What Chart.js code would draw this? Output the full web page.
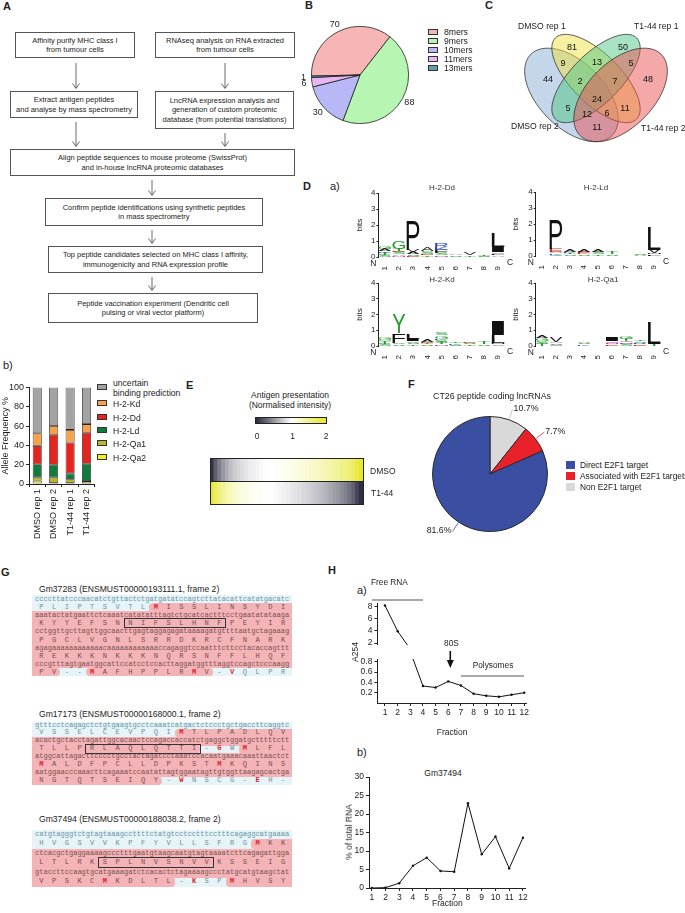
<!DOCTYPE html>
<html>
<head>
<meta charset="utf-8">
<title>Figure</title>
<script src="https://cdn.jsdelivr.net/npm/chart.js@4.4.1/dist/chart.umd.min.js"></script>
<style>
body{margin:0;width:685px;height:913px;position:relative;overflow:hidden;background:#fff;font-family:"Liberation Sans",Arial,sans-serif;color:#222}
canvas{position:absolute}
.t{position:absolute;white-space:nowrap;line-height:1}
.c{transform:translateX(-50%)}
.pl{position:absolute;font-weight:bold;font-size:11px;line-height:1}
.fb{position:absolute;box-sizing:border-box;border:1px solid #555;font-size:7.5px;line-height:9.4px;text-align:center;display:flex;align-items:center;justify-content:center;background:#fff}
.lg{position:absolute;line-height:1;white-space:nowrap}
.lg i{position:absolute;left:-16px;top:1px;width:10px;height:6px;border:0.8px solid #333;box-sizing:border-box}
.mono{position:absolute;font-family:"Liberation Mono","DejaVu Sans Mono",monospace;font-size:7.07px;white-space:pre}
</style>
</head>
<body>

<!-- panel letters -->
<div class="pl" style="left:3px;top:1px">A</div>
<div class="pl" style="left:305px;top:0px">B</div>
<div class="pl" style="left:485px;top:0px">C</div>
<div class="pl" style="left:303px;top:181px">D</div>
<div class="t" style="left:330px;top:181px;font-size:11px">a)</div>
<div class="t" style="left:3px;top:360px;font-size:11px">b)</div>
<div class="pl" style="left:186px;top:380px">E</div>
<div class="pl" style="left:408px;top:379px">F</div>
<div class="pl" style="left:1px;top:567px">G</div>
<div class="pl" style="left:328px;top:565px">H</div>
<div class="t" style="left:357px;top:585px;font-size:11px">a)</div>
<div class="t" style="left:357px;top:747px;font-size:11px">b)</div>

<!-- A: workflow -->
<div class="fb" style="left:15px;top:32px;width:120px;height:26px">Affinity purify MHC class I<br>from tumour cells</div>
<div class="fb" style="left:155px;top:32px;width:140px;height:26px">RNAseq analysis on RNA extracted<br>from tumour cells</div>
<div class="fb" style="left:10px;top:91px;width:128px;height:27px">Extract antigen peptides<br>and analyse by mass spectrometry</div>
<div class="fb" style="left:155px;top:91px;width:139px;height:38px">LncRNA expression analysis and<br>generation of custom proteomic<br>database (from potential translations)</div>
<div class="fb" style="left:10px;top:149px;width:285px;height:27px">Align peptide sequences to mouse proteome (SwissProt)<br>and in-house lncRNA proteomic databases</div>
<div class="fb" style="left:45px;top:198px;width:218px;height:28px">Confirm peptide identifications using synthetic peptides<br>in mass spectrometry</div>
<div class="fb" style="left:48px;top:246px;width:215px;height:27px">Top peptide candidates selected on MHC class I affinity,<br>immunogenicity and RNA expression profile</div>
<div class="fb" style="left:48px;top:293px;width:210px;height:30px">Peptide vaccination experiment (Dendritic cell<br>pulsing or viral vector platform)</div>
<svg style="position:absolute;left:0;top:0" width="300" height="330">
  <g stroke="#444" stroke-width="0.8" fill="none">
    <path d="M76 63V88M72.5 83.5L76 88.5L79.5 83.5"/>
    <path d="M225 63V88M221.5 83.5L225 88.5L228.5 83.5"/>
    <path d="M76 122V146M72.5 141.5L76 146.5L79.5 141.5"/>
    <path d="M225 133V146M221.5 141.5L225 146.5L228.5 141.5"/>
    <path d="M152 180V195M148.5 190.5L152 195.5L155.5 190.5"/>
    <path d="M152 230V243M148.5 238.5L152 243.5L155.5 238.5"/>
    <path d="M152 277V290M148.5 285.5L152 290.5L155.5 285.5"/>
  </g>
</svg>

<!-- B -->
<canvas id="pieB" width="138" height="138" style="left:291px;top:6px"></canvas>
<div id="legB"></div>

<!-- C -->
<canvas id="venn" width="164" height="164" style="left:514px;top:8px"></canvas>
<div class="t" style="left:518px;top:21.5px;font-size:8.6px">DMSO rep 1</div>
<div class="t" style="left:634px;top:21.5px;font-size:8.6px">T1-44 rep 1</div>
<div class="t" style="left:511px;top:121.5px;font-size:8.6px">DMSO rep 2</div>
<div class="t" style="left:641px;top:123.5px;font-size:8.6px">T1-44 rep 2</div>

<!-- D -->
<canvas id="logoDd" width="163" height="84" style="left:355px;top:186px"></canvas>
<canvas id="logoLd" width="163" height="84" style="left:511px;top:185px"></canvas>
<canvas id="logoKd" width="163" height="83" style="left:355px;top:276px"></canvas>
<canvas id="logoQa1" width="163" height="83" style="left:511px;top:276px"></canvas>
<div class="t c" style="left:442px;top:184px;font-size:8px;color:#333">H-2-Dd</div>
<div class="t c" style="left:596px;top:184px;font-size:8px;color:#333">H-2-Ld</div>
<div class="t c" style="left:442px;top:276px;font-size:8px;color:#333">H-2-Kd</div>
<div class="t c" style="left:603px;top:276px;font-size:8px;color:#333">H-2-Qa1</div>

<!-- b) -->
<canvas id="alleles" width="100" height="185" style="left:0px;top:380px"></canvas>
<div id="legAllele"></div>

<!-- E -->
<div class="t c" style="left:290px;top:390px;font-size:8.5px;text-align:center;line-height:10px">Antigen presentation<br>(Normalised intensity)</div>
<div style="position:absolute;left:255px;top:417px;width:72px;height:7px;box-sizing:border-box;border:1px solid #222;background:linear-gradient(to right,rgb(40,40,62),#fff 50%,rgb(230,230,40))"></div>
<div class="t c" style="left:257px;top:432px;font-size:8.5px">0</div>
<div class="t c" style="left:292.5px;top:432px;font-size:8.5px">1</div>
<div class="t c" style="left:326px;top:432px;font-size:8.5px">2</div>
<canvas id="heat" width="153" height="46" style="left:210px;top:458px"></canvas>
<div style="position:absolute;left:209.5px;top:457.5px;width:154px;height:47px;box-sizing:border-box;border:1.2px solid #222"></div>
<div style="position:absolute;left:210px;top:480.5px;width:153px;height:1px;background:#222"></div>
<div class="t" style="left:370px;top:467px;font-size:8.5px">DMSO</div>
<div class="t" style="left:371px;top:489px;font-size:8.5px">T1-44</div>

<!-- F -->
<div class="t c" style="left:492px;top:391.5px;font-size:8.8px">CT26 peptide coding lncRNAs</div>
<canvas id="pieF" width="176" height="176" style="left:402px;top:386px"></canvas>
<div id="legF"></div>

<!-- G -->
<div id="seqs"></div>

<!-- H a) -->
<canvas id="a254Top" width="191" height="56" style="left:340px;top:596px"></canvas>
<canvas id="a254Bottom" width="191" height="90" style="left:340px;top:652px"></canvas>
<div class="t" style="left:355px;top:652px;font-size:8.5px;transform:translate(-50%,-50%) rotate(-90deg)">A254</div>
<div class="t" style="left:371px;top:578px;font-size:8.3px">Free RNA</div>
<div class="t c" style="left:451.5px;top:639px;font-size:8.3px">80S</div>
<div class="t c" style="left:493px;top:661px;font-size:8.3px">Polysomes</div>
<svg style="position:absolute;left:360px;top:590px" width="180" height="100">
  <g stroke="#555" stroke-width="1" fill="none">
    <path d="M12 10H63"/>
    <path d="M101 86H164"/>
  </g>
  <path d="M90.3 61V71" stroke="#111" stroke-width="1.6"/>
  <path d="M86.8 70L90.3 78L93.8 70Z" fill="#111"/>
</svg>

<!-- H b) -->
<div class="t c" style="left:443px;top:769px;font-size:8.5px">Gm37494</div>
<canvas id="gmChart" width="200" height="145" style="left:330px;top:768px"></canvas>
<div class="t" style="left:349px;top:832px;font-size:8.5px;transform:translate(-50%,-50%) rotate(-90deg)">% of total RNA</div>

<script>
// ---------- data ----------
// B: peptide length distribution
const lengthNames = ['8mers', '9mers', '10mers', '11mers', '13mers'];
const lengthCounts = [70, 88, 30, 6, 1];

// C: overlap between replicates
const vennCounts = [81, 50, 44, 48, 9, 13, 5, 2, 7, 24, 5, 11, 12, 6, 11];

// D: motif logos, stacks of [residue, bits] per position 1..9
const logoPositions = [1, 2, 3, 4, 5, 6, 7, 8, 9];
const bitTicks = [0, 1, 2, 3, 4];
const logoDd = [
  [['S', 0.15], ['T', 0.12], ['K', 0.1], ['A', 0.12], ['G', 0.13]],
  [['N', 0.08], ['A', 0.1], ['S', 0.12], ['E', 0.08], ['T', 0.12], ['G', 0.5]],
  [['E', 0.08], ['S', 0.1], ['A', 0.12], ['V', 0.15], ['P', 1.85]],
  [['T', 0.1], ['E', 0.1], ['S', 0.15], ['A', 0.25]],
  [['N', 0.1], ['S', 0.15], ['F', 0.2], ['K', 0.15], ['R', 0.25]],
  [['S', 0.1], ['A', 0.1]],
  [['T', 0.1], ['V', 0.12]],
  [['S', 0.08], ['T', 0.1]],
  [['A', 0.1], ['F', 0.1], ['V', 0.1], ['I', 0.3], ['L', 0.85]]
];
const logoLd = [
  [],
  [['G', 0.08], ['K', 0.08], ['A', 0.1], ['E', 0.2], ['P', 1.8]],
  [['S', 0.1], ['T', 0.1], ['K', 0.08], ['A', 0.15]],
  [['S', 0.1], ['E', 0.12], ['A', 0.15]],
  [['T', 0.1], ['S', 0.15], ['A', 0.15]],
  [['S', 0.1], ['T', 0.12]],
  [],
  [['A', 0.08], ['S', 0.1]],
  [['F', 0.1], ['M', 0.1], ['V', 0.2], ['L', 1.4]]
];
const logoKd = [
  [['S', 0.15], ['T', 0.15], ['A', 0.1], ['G', 0.15]],
  [['S', 0.1], ['V', 0.1], ['F', 0.6], ['Y', 1.2]],
  [['T', 0.1], ['S', 0.1], ['V', 0.1], ['I', 0.15], ['L', 0.35]],
  [['S', 0.1], ['T', 0.1], ['E', 0.08], ['A', 0.12]],
  [['N', 0.1], ['T', 0.12], ['S', 0.15], ['K', 0.1], ['G', 0.2], ['S', 0.15]],
  [['S', 0.08], ['K', 0.1], ['T', 0.1]],
  [['T', 0.1], ['S', 0.1], ['E', 0.1]],
  [['S', 0.1], ['T', 0.12]],
  [['V', 0.1], ['M', 0.1], ['L', 0.5], ['I', 0.9]]
];
const logoQa1 = [
  [['T', 0.15], ['S', 0.15], ['G', 0.2], ['A', 0.15]],
  [['Q', 0.08], ['S', 0.1], ['A', 0.1], ['V', 0.3]],
  [],
  [['K', 0.1], ['S', 0.1], ['A', 0.1]],
  [],
  [['E', 0.1], ['N', 0.1], ['Q', 0.1], ['I', 0.25]],
  [['S', 0.12], ['N', 0.1], ['Q', 0.1], ['T', 0.15], ['G', 0.2]],
  [['E', 0.1], ['R', 0.1], ['S', 0.1], ['T', 0.1]],
  [['T', 0.12], ['L', 1.4]]
];

// b): allele frequency (%) per sample, bottom to top of the stack
const sampleNames = ['DMSO rep 1', 'DMSO rep 2', 'T1-44 rep 1', 'T1-44 rep 2'];
const qa2 = [3.5, 1, 1, 0.5];
const qa1 = [3.5, 6, 4, 2.5];
const ld = [13.5, 13, 6, 18];
const dd = [19, 31, 32, 32];
const kd = [13, 9, 13, 9];
const uncertain = [47.5, 40, 44, 38];
const freqTicks = [0, 20, 40, 60, 80, 100];

// E: normalised antigen presentation per peptide
const heatRows = ['DMSO', 'T1-44'];
const dmsoIntensity = [0.05, 0.25, 0.4, 0.52, 0.62, 0.7, 0.76, 0.81, 0.85, 0.88, 0.91, 0.93, 0.95, 0.97, 0.99, 1.0, 1.01, 1.03, 1.05, 1.07,
  1.09, 1.11, 1.13, 1.15, 1.18, 1.2, 1.23, 1.26, 1.29, 1.32, 1.36, 1.4, 1.44, 1.48, 1.53, 1.58, 1.65, 1.74, 1.86, 1.97];
const t144Intensity = [1.95, 1.75, 1.6, 1.48, 1.38, 1.3, 1.24, 1.19, 1.15, 1.12, 1.09, 1.07, 1.05, 1.03, 1.01, 1.0, 0.99, 0.97, 0.95, 0.93,
  0.91, 0.89, 0.87, 0.85, 0.82, 0.8, 0.77, 0.74, 0.71, 0.68, 0.64, 0.6, 0.56, 0.52, 0.47, 0.42, 0.35, 0.26, 0.14, 0.03];

// F: E2F1 association (%)
const e2f1Names = ['Non E2F1 target', 'Associated with E2F1 targets', 'Direct E2F1 target'];
const e2f1Pct = [10.7, 7.7, 81.6];

// H: polysome profile
const fractions = [1, 2, 3, 4, 5, 6, 7, 8, 9, 10, 11, 12];
const a254 = [8.2, 3.95, 1.0, 0.33, 0.30, 0.42, 0.34, 0.18, 0.14, 0.12, 0.16, 0.20];
const a254UpperTicks = [2, 4, 6, 8];
const a254LowerTicks = [0.2, 0.4, 0.6, 0.8];
const gm37494Pct = [0, 0.1, 1.3, 6.0, 8.2, 4.6, 4.4, 22.9, 9.1, 13.9, 5.3, 13.6];
const pctTicks = [0, 5, 10, 15, 20, 25, 30];

// G: sequences ('n' = nucleotides, 'a' = residues + ORF mask + red mask)
const seqTitles = ['Gm37283 (ENSMUST00000193111.1, frame 2)', 'Gm17173 (ENSMUST00000168000.1, frame 2)', 'Gm37494 (ENSMUST00000188038.2, frame 2)'];
const seqRows = [
  [
    ['n', 'ccccttatcccaacatctgttactctgatgatatccagtcttatacattcatatgacatc', 'b'],
    ['a', 'PLIPTSVTLMISSLINSYDI', 'bbbbbbbbbppppppppppp', '.........r..........'],
    ['n', 'aaatactatgaattctcaaatcatatatttagtctgcatcactttcctgaatatataaga', 'p'],
    ['a', 'KYYEFSNNIFSLHNFPEYIR', 'pppppppppppppppppppp', '....................'],
    ['n', 'cctggttgcttagttggcaacttgagtaggagagataaaagatgttttaatgctagaaag', 'p'],
    ['a', 'PGCLVGNLSRRDKRCFNARK', 'pppppppppppppppppppp', '....................'],
    ['n', 'agagaaaaaaaaaaaacaaaaaaaaaaaaccagaggtccaatttcttcctacaccagttt', 'p'],
    ['a', 'REKKKNKKKNQRSNFFLHQF', 'pppppppppppppppppppp', '....................'],
    ['n', 'cccgtttagtgaatggcattccatcctccacttaggatggtttaggtccagctcccaagg', 'p'],
    ['a', 'PV--MAFHPPLRMV-VQLPR', 'ppbbppppppppppbbbbbb', '....r.......r..r....']
  ],
  [
    ['n', 'gtttcctcagagctctgtgaagtgcctcaaatcatgactctccctgctgaccttcaggtc', 'b'],
    ['a', 'VSSELCEVPQIMTLPADLQV', 'bbbbbbbbbbbppppppppp', '...........r........'],
    ['n', 'acactgctacctagattggcacaactccagaccaccatctgaggctggatgctttttctt', 'p'],
    ['a', 'TLLPRLAQLQTTI-GWMLFL', 'pppppppppppppbbbpppp', '..............r.r...'],
    ['n', 'atggcattagacttcccctgcctactagatcctaaatccacaatgaaacaaattaactct', 'p'],
    ['a', 'MALDFPCLLDPKSTMKQINS', 'pppppppppppppppppppp', 'r.............r.....'],
    ['n', 'aatggaacccaaacttcagaaatccaatattagtggaatagttgtggttaagagcactga', 'p'],
    ['a', 'NGTQTSEIQY-WNSCG-EH-', 'ppppppppppbbbbbbbbbb', '...........r.....r..']
  ],
  [
    ['n', 'catgtagggtctgtagtaaagccttttctatgtcctcctttcctttcagaggcatgaaaa', 'b'],
    ['a', 'HVGSVVKPFYVLLSFRGMKK', 'bbbbbbbbbbbbbbbbbppp', '.................r..'],
    ['n', 'ctcacgctgaggaaaagccctttgaatgtaagcaatgtagtaaaatcttcagagattgga', 'p'],
    ['a', 'LTLRKSPLNVSNVVKSSEIG', 'pppppppppppppppppppp', '....................'],
    ['n', 'gtaccttccaagtgcatgaaagatctcacactctagaaaagccctatgcatgtaagctat', 'p'],
    ['a', 'VPSKCMKDLTL-KSPMHVSY', 'pppppppppppbbbbppppp', '.....r......r..r....']
  ]
];
const peptideBoxes = [[3, 7, 14], [3, 4, 12], [3, 5, 13]];

// ---------- styles ----------
const lengthColors = ['#f8b5b5', '#b7f6b2', '#b8b8f6', '#e9b6f3', '#5e9fb0'];
const alleleColors = { qa2: '#f6ee18', qa1: '#b8b62d', ld: '#0f7c3b', dd: '#e8231e', kd: '#f6a24d', uncertain: '#a3a3a3' };
const e2f1Colors = ['#d9d9d9', '#e8212a', '#3a4fa1'];
const FONT = '"Liberation Sans", Arial, sans-serif';

Chart.defaults.font.family = FONT;
Chart.defaults.font.size = 9;
Chart.defaults.color = '#222';
Chart.defaults.animation = false;
Chart.defaults.responsive = false;
Chart.defaults.events = [];
Chart.defaults.plugins.legend.display = false;
Chart.defaults.plugins.tooltip.enabled = false;

const el = id => document.getElementById(id);
const fixW = w => s => { s.width = w; };
const fixH = h => s => { s.height = h; };
const setTicks = vals => s => { s.ticks = vals.map(v => ({ value: v })); };
const axisGrid = { drawOnChartArea: false, tickLength: 3, color: '#222' };
const axisBorder = { color: '#222', width: 1 };

// ---------- B pie ----------
function outerLabels(gap, size, fmt, leader) {
  return {
    id: 'outerLabels',
    afterDatasetsDraw(chart) {
      const ctx = chart.ctx;
      const vals = chart.data.datasets[0].data;
      const cols = chart.data.datasets[0].backgroundColor;
      ctx.save();
      ctx.font = size + 'px ' + FONT;
      ctx.fillStyle = '#222';
      chart.getDatasetMeta(0).data.forEach((arc, i) => {
        const a = (arc.startAngle + arc.endAngle) / 2;
        const cx = Math.cos(a), cy = Math.sin(a);
        if (leader) {
          const x1 = arc.x + cx * (arc.outerRadius + 1), y1 = arc.y + cy * (arc.outerRadius + 1);
          const x2 = arc.x + cx * (arc.outerRadius + gap), y2 = arc.y + cy * (arc.outerRadius + gap);
          ctx.strokeStyle = cols[i] === '#d9d9d9' ? '#bbb' : cols[i];
          ctx.lineWidth = 0.8;
          ctx.beginPath(); ctx.moveTo(x1, y1); ctx.lineTo(x2, y2); ctx.stroke();
          ctx.textAlign = cx >= 0 ? 'left' : 'right';
          ctx.textBaseline = 'middle';
          ctx.fillText(fmt(vals[i]), x2 + (cx >= 0 ? 1 : -1), y2 - 1);
        } else {
          ctx.textAlign = 'center';
          ctx.textBaseline = 'middle';
          ctx.fillText(fmt(vals[i]), arc.x + cx * (arc.outerRadius + gap), arc.y + cy * (arc.outerRadius + gap));
        }
      });
      ctx.restore();
    }
  };
}

new Chart(el('pieB'), {
  type: 'pie',
  data: { labels: lengthNames, datasets: [{ data: lengthCounts, backgroundColor: lengthColors, borderColor: '#222', borderWidth: 0.8 }] },
  options: { rotation: 268.8, layout: { padding: 20 } },
  plugins: [outerLabels(8, 9, v => String(v), false)]
});
el('legB').innerHTML = lengthNames.map((n, i) =>
  `<div class="lg" style="left:444px;top:${28 + i * 9}px;font-size:8.6px"><i style="background:${lengthColors[i]}"></i>${n}</div>`).join('');

// ---------- C venn ----------
// ellipse centre / semi-axes in venn units, rotation in degrees (screen)
const vennShapes = [
  { cx: 0.35, cy: 0.47, a: 0.35, b: 0.20, rot: 45, fill: 'rgba(135,173,213,0.5)' },
  { cx: 0.50, cy: 0.57, a: 0.35, b: 0.15, rot: 45, fill: 'rgba(239,225,65,0.5)' },
  { cx: 0.50, cy: 0.57, a: 0.35, b: 0.15, rot: -45, fill: 'rgba(81,197,133,0.5)' },
  { cx: 0.65, cy: 0.47, a: 0.35, b: 0.20, rot: -45, fill: 'rgba(233,81,81,0.5)' }
];
const vennSpots = [[0.354, 0.762], [0.665, 0.762], [0.207, 0.561], [0.817, 0.561], [0.299, 0.659], [0.506, 0.665], [0.713, 0.659],
  [0.402, 0.549], [0.616, 0.549], [0.506, 0.445], [0.329, 0.390], [0.677, 0.390], [0.445, 0.348], [0.567, 0.354], [0.506, 0.274]];
new Chart(el('venn'), {
  type: 'scatter',
  data: { datasets: [] },
  options: {
    layout: { autoPadding: false, padding: 0 },
    scales: { x: { type: 'linear', min: 0, max: 1, display: false }, y: { type: 'linear', min: 0, max: 1, display: false } }
  },
  plugins: [{
    id: 'vennShapes',
    afterDraw(chart) {
      const { ctx, scales: { x, y } } = chart;
      vennShapes.forEach(e => {
        const th = -e.rot * Math.PI / 180; // venn units have y pointing up
        ctx.beginPath();
        for (let k = 0; k <= 96; k++) {
          const t = k / 96 * Math.PI * 2;
          const u = e.a * Math.cos(t), v = e.b * Math.sin(t);
          const px = x.getPixelForValue(e.cx + u * Math.cos(th) - v * Math.sin(th));
          const py = y.getPixelForValue(e.cy + u * Math.sin(th) + v * Math.cos(th));
          if (k === 0) ctx.moveTo(px, py); else ctx.lineTo(px, py);
        }
        ctx.closePath();
        ctx.fillStyle = e.fill; ctx.fill();
        ctx.lineWidth = 0.8; ctx.strokeStyle = '#333'; ctx.stroke();
      });
      ctx.save();
      ctx.font = '9px ' + FONT; ctx.fillStyle = '#111'; ctx.textAlign = 'center'; ctx.textBaseline = 'middle';
      vennCounts.forEach((n, i) => ctx.fillText(String(n), x.getPixelForValue(vennSpots[i][0]), y.getPixelForValue(vennSpots[i][1])));
      ctx.restore();
    }
  }]
});

// ---------- D logos ----------
function aaColor(ch) {
  if ('GSTYC'.includes(ch)) return '#1f9e2a';
  if ('NQ'.includes(ch)) return '#b03cb0';
  if ('KRH'.includes(ch)) return '#2b3fca';
  if ('DE'.includes(ch)) return '#d82222';
  return '#111';
}
function drawLetter(ctx, ch, x0, x1, yb, yt) {
  const h = yb - yt;
  if (h < 0.4) return;
  ctx.save();
  ctx.font = '100px ' + FONT;
  const m = ctx.measureText(ch);
  const asc = m.actualBoundingBoxAscent, desc = m.actualBoundingBoxDescent;
  const gw = m.actualBoundingBoxLeft + m.actualBoundingBoxRight;
  ctx.translate(x0, yb);
  ctx.scale((x1 - x0) / gw, h / (asc + desc));
  ctx.fillStyle = aaColor(ch);
  ctx.textBaseline = 'alphabetic';
  ctx.fillText(ch, m.actualBoundingBoxLeft, -desc);
  ctx.restore();
}
function makeLogo(id, stacks, yw) {
  new Chart(el(id), {
    type: 'scatter',
    data: { datasets: [] },
    options: {
      layout: { autoPadding: false, padding: { top: 7, right: 12, left: 0, bottom: 0 } },
      scales: {
        x: {
          type: 'linear', min: 0.55, max: 9.55, afterBuildTicks: setTicks(logoPositions), afterFit: fixH(13),
          ticks: { minRotation: 90, maxRotation: 90, font: { size: 8 }, padding: 1 },
          grid: { display: false }, border: { display: false }
        },
        y: {
          type: 'linear', min: 0, max: 4, afterBuildTicks: setTicks(bitTicks), afterFit: fixW(yw),
          ticks: { font: { size: 8 }, padding: 1 },
          grid: { drawOnChartArea: false, tickLength: 2, color: '#222' }, border: axisBorder,
          title: { display: true, text: 'bits', font: { size: 8 }, padding: 0 }
        }
      }
    },
    plugins: [{
      id: 'logoLetters',
      afterDatasetsDraw(chart) {
        const { ctx, scales: { x, y } } = chart;
        stacks.forEach((stack, i) => {
          const x0 = x.getPixelForValue(logoPositions[i] - 0.45), x1 = x.getPixelForValue(logoPositions[i] + 0.45);
          let base = 0;
          stack.forEach(([ch, bits]) => {
            drawLetter(ctx, ch, x0, x1, y.getPixelForValue(base), y.getPixelForValue(base + bits));
            base += bits;
          });
        });
        ctx.save();
        ctx.font = '8.5px ' + FONT; ctx.fillStyle = '#222'; ctx.textAlign = 'center'; ctx.textBaseline = 'middle';
        ctx.fillText('N', x.left - 5, y.bottom + 7);
        ctx.fillText('C', x.getPixelForValue(9.55) + 4, y.bottom + 6);
        ctx.restore();
      }
    }]
  });
}
makeLogo('logoDd', logoDd, 23.4);
makeLogo('logoLd', logoLd, 24.7);
makeLogo('logoKd', logoKd, 23.4);
makeLogo('logoQa1', logoQa1, 24.7);

// ---------- b) stacked bars ----------
const alleleSeries = [
  ['H-2-Qa2', qa2, alleleColors.qa2], ['H-2-Qa1', qa1, alleleColors.qa1], ['H-2-Ld', ld, alleleColors.ld],
  ['H-2-Dd', dd, alleleColors.dd], ['H-2-Kd', kd, alleleColors.kd], ['uncertain binding prediction', uncertain, alleleColors.uncertain]
];
new Chart(el('alleles'), {
  type: 'bar',
  data: {
    labels: sampleNames,
    datasets: alleleSeries.map(([label, data, color]) => ({
      label, data, backgroundColor: color, borderColor: '#222', borderWidth: 0.8, borderSkipped: false,
      barPercentage: 0.55, categoryPercentage: 1
    }))
  },
  options: {
    layout: { autoPadding: false, padding: { top: 6, right: 5, left: 0, bottom: 0 } },
    scales: {
      x: { stacked: true, afterFit: fixH(81), ticks: { minRotation: 90, maxRotation: 90, font: { size: 9 }, padding: 2 }, grid: axisGrid, border: axisBorder },
      y: {
        stacked: true, min: 0, max: 100, afterBuildTicks: setTicks(freqTicks), afterFit: fixW(29),
        ticks: { font: { size: 9 }, padding: 2 }, grid: axisGrid, border: axisBorder,
        title: { display: true, text: 'Allele Frequency %', font: { size: 9 }, padding: 0 }
      }
    }
  }
});
const legRows = [[387, 5], [403, 4], [417, 3], [430, 2], [443, 1], [457, 0]];
el('legAllele').innerHTML = legRows.map(([yc, k]) => {
  const [name, , color] = alleleSeries[k];
  const txt = k === 5 ? 'uncertain<br>binding prediction' : name;
  const top = k === 5 ? yc - 9.5 : yc - 4.3;
  const boxTop = k === 5 ? 6.5 : 1;
  return `<div class="lg" style="left:113px;top:${top}px;font-size:8.6px;line-height:10px"><i style="left:-16px;top:${boxTop}px;background:${color}"></i>${txt}</div>`;
}).join('');

// ---------- E heatmap ----------
function heatColor(v) {
  const lo = [40, 40, 62], mid = [255, 255, 255], hi = [230, 230, 40];
  const t = Math.min(Math.max(v, 0), 2);
  const [a, b, f] = t < 1 ? [lo, mid, t] : [mid, hi, t - 1];
  return 'rgb(' + a.map((c, i) => Math.round(c + (b[i] - c) * f)).join(',') + ')';
}
new Chart(el('heat'), {
  type: 'bar',
  data: {
    labels: dmsoIntensity.map((_, i) => i + 1),
    datasets: [
      { label: heatRows[0], data: dmsoIntensity.map(() => [1, 2]), backgroundColor: dmsoIntensity.map(heatColor) },
      { label: heatRows[1], data: t144Intensity.map(() => [0, 1]), backgroundColor: t144Intensity.map(heatColor) }
    ].map(d => Object.assign(d, { grouped: false, barPercentage: 1, categoryPercentage: 1, borderWidth: 0 }))
  },
  options: {
    layout: { autoPadding: false, padding: 0 },
    scales: { x: { display: false }, y: { display: false, min: 0, max: 2 } }
  }
});

// ---------- F pie ----------
new Chart(el('pieF'), {
  type: 'pie',
  data: { labels: e2f1Names, datasets: [{ data: e2f1Pct, backgroundColor: e2f1Colors, borderColor: '#2a2a2a', borderWidth: 1 }] },
  options: { layout: { padding: 30 } },
  plugins: [outerLabels(11, 8.8, v => v.toFixed(1) + '%', true)]
});
el('legF').innerHTML = [2, 1, 0].map((k, i) =>
  `<div class="lg" style="left:580px;top:${460.5 + i * 11.3}px;font-size:8.4px"><i style="left:-14px;top:0px;width:9px;height:8px;border:none;background:${e2f1Colors[k]}"></i>${e2f1Names[k]}</div>`).join('');

// ---------- G sequences ----------
const seqLayout = [{ top: 595, rowH: 8.1, titleY: 589 }, { top: 721.5, rowH: 7.9, titleY: 714 }, { top: 830, rowH: 9.45, titleY: 819 }];
const CW = 4.24, PINK = '#f4b3b6', BLUE = '#e6f3f7';
let seqHtml = '';
seqRows.forEach((rows, bi) => {
  const L = seqLayout[bi];
  seqHtml += `<div class="t" style="left:39px;top:${L.titleY - 4.5}px;font-size:8.6px">${seqTitles[bi]}</div>`;
  let inner = '';
  rows.forEach((r, ri) => {
    const y = ri * L.rowH;
    if (r[0] === 'n') {
      if (r[2] === 'p') inner += `<div style="position:absolute;left:0;top:${y}px;width:260px;height:${L.rowH + 0.5}px;background:${PINK}"></div>`;
      inner += `<div class="mono" style="left:3px;top:${y}px;line-height:${L.rowH}px;color:${r[2] === 'p' ? '#7a5252' : '#6795a6'}">${r[1]}</div>`;
    } else {
      const [, aa, mask, red] = r;
      let i = 0;
      while (i < 20) {
        let j = i;
        while (j < 20 && mask[j] === mask[i]) j++;
        if (mask[i] === 'p') {
          const l = i === 0 ? 0 : 3 + i * 3 * CW, rr = j === 20 ? 260 : 3 + j * 3 * CW;
          const rad = `${i === 0 ? 0 : 4}px ${j === 20 ? 0 : 4}px ${j === 20 ? 0 : 4}px ${i === 0 ? 0 : 4}px`;
          inner += `<div style="position:absolute;left:${l}px;top:${y}px;width:${rr - l}px;height:${L.rowH + 0.5}px;background:${PINK};border-radius:${rad}"></div>`;
        }
        i = j;
      }
      for (let k = 0; k < 20; k++) {
        const col = red[k] === 'r' ? '#e3232b' : (mask[k] === 'p' ? '#6f5050' : '#6c8f9b');
        inner += `<div class="mono" style="left:${3 + (3 * k + 1) * CW}px;top:${y}px;line-height:${L.rowH}px;color:${col};font-weight:${red[k] === 'r' ? 'bold' : 'normal'}">${aa[k]}</div>`;
      }
    }
  });
  const [br, bs, be] = peptideBoxes[bi];
  inner += `<div style="position:absolute;left:${3 + bs * 3 * CW - 0.5}px;top:${br * L.rowH - 1}px;width:${(be - bs + 1) * 3 * CW + 1}px;height:${L.rowH + 1.5}px;box-sizing:border-box;border:1px solid #333"></div>`;
  seqHtml += `<div style="position:absolute;left:32px;top:${L.top}px;width:260px;height:${rows.length * L.rowH}px;background:${BLUE};overflow:hidden">${inner}</div>`;
});
el('seqs').innerHTML = seqHtml;

// ---------- H a) broken-axis profile ----------
const xy = vals => fractions.map((f, i) => ({ x: f, y: vals[i] }));
const lineDs = data => ({ data, borderColor: '#111', borderWidth: 1, pointRadius: 1.2, pointBackgroundColor: '#111', pointBorderWidth: 0, tension: 0 });
const fracAxis = (min, max, extra) => Object.assign({
  type: 'linear', min, max, afterBuildTicks: setTicks(fractions),
  ticks: { font: { size: 8.5 }, padding: 2, maxRotation: 0 }, grid: axisGrid, border: axisBorder
}, extra);
new Chart(el('a254Top'), {
  type: 'line',
  data: { datasets: [lineDs(xy(a254))] },
  options: {
    layout: { autoPadding: false, padding: { top: 4, right: 4, left: 0, bottom: 2.5 } },
    scales: {
      x: fracAxis(0.4, 12.2, { display: false }),
      y: { min: 1.7, max: 8.6, afterBuildTicks: setTicks(a254UpperTicks), afterFit: fixW(37.4), ticks: { font: { size: 8.5 }, padding: 2 }, grid: axisGrid, border: axisBorder }
    }
  }
});
new Chart(el('a254Bottom'), {
  type: 'line',
  data: { datasets: [lineDs(xy(a254))] },
  options: {
    layout: { autoPadding: false, padding: { top: 3, right: 4, left: 0, bottom: 0 } },
    scales: {
      x: fracAxis(0.4, 12.2, { afterFit: fixH(39), title: { display: true, text: 'Fraction', font: { size: 8.5 }, padding: { top: 6 } } }),
      y: {
        min: 0, max: 0.853, afterBuildTicks: setTicks(a254LowerTicks), afterFit: fixW(37.4),
        ticks: { font: { size: 8.5 }, padding: 2, callback: v => v.toFixed(1) }, grid: axisGrid, border: axisBorder
      }
    }
  }
});

// ---------- H b) ----------
new Chart(el('gmChart'), {
  type: 'line',
  data: { datasets: [lineDs(xy(gm37494Pct))] },
  options: {
    layout: { autoPadding: false, padding: { top: 9, right: 4.3, left: 0, bottom: 0 } },
    scales: {
      x: fracAxis(0.8, 12.2, { afterFit: fixH(25), title: { display: true, text: 'Fraction', font: { size: 8.5 }, padding: { top: 0 } } }),
      y: { min: 0, max: 30, afterBuildTicks: setTicks(pctTicks), afterFit: fixW(39), ticks: { font: { size: 8.5 }, padding: 2 }, grid: axisGrid, border: axisBorder }
    }
  }
});
</script>
</body>
</html>
